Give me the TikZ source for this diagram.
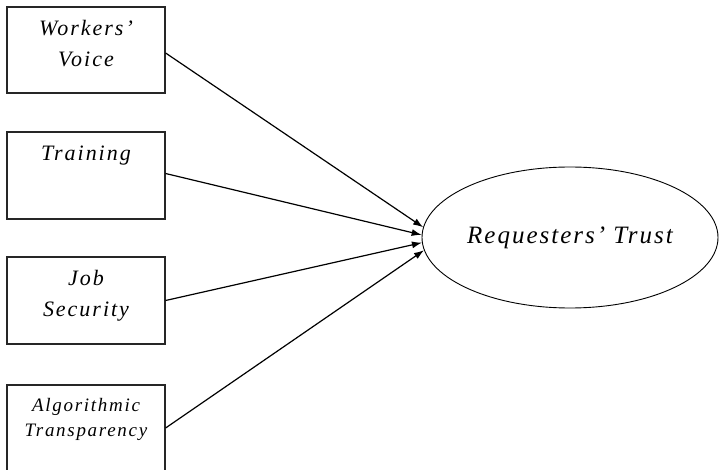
\documentclass[tikz,border=0pt]{standalone}
\usepackage{fontspec}
\setmainfont{Liberation Serif}
\usetikzlibrary{shapes.geometric,arrows.meta,positioning}

\begin{document}
\begin{tikzpicture}[
    x=1pt, y=-1pt,
    varbox/.style={rectangle, draw=black!85, line width=1.2pt, fill=white,
        minimum width=158pt, minimum height=86pt, inner sep=0pt},
    vartxt/.style={font=\fontsize{22}{31}\selectfont\itshape\addfontfeatures{LetterSpace=9}, align=center, inner sep=0pt},
    smalltxt/.style={font=\fontsize{19}{25}\selectfont\itshape\addfontfeatures{LetterSpace=9}, align=center, inner sep=0pt},
    outcome/.style={ellipse, draw, line width=0.9pt, minimum width=296pt, minimum height=141pt,
        font=\fontsize{25}{30}\selectfont\itshape\addfontfeatures{LetterSpace=8}, inner sep=0pt},
    flow/.style={-{Latex[length=10pt,width=7pt]}, line width=1.2pt},
]
\useasboundingbox (0,0) rectangle (720,470);

% ---------- predictors ----------
\node[varbox] (voice) at (86,50) {};
\node[vartxt, below=14pt of voice.north] (voicet) {Workers’\\Voice};

\node[varbox, minimum height=87pt] (train) at (86,175.5) {};
\node[vartxt, below=14pt of train.north] (traint) {Training};

\node[varbox, minimum height=87pt] (secur) at (86,300.5) {};
\node[vartxt, below=14pt of secur.north] (secut) {Job\\Security};

\node[varbox, minimum height=92pt] (algo) at (86,431) {};
\node[smalltxt, below=14pt of algo.north] (algot) {Algorithmic\\Transparency};

% ---------- outcome ----------
\node[outcome] (trust) at (570,237.5) {Requesters’ Trust};

% ---------- paths ----------
\draw[flow] ([yshift=-3pt]voice.east) -- (trust.176);
\draw[flow] ([yshift=2pt]train.east) -- (trust.179);
\draw[flow] (secur.east) -- (trust.182);
\draw[flow] ([yshift=3pt]algo.east) -- (trust.185);

\end{tikzpicture}
\end{document}
